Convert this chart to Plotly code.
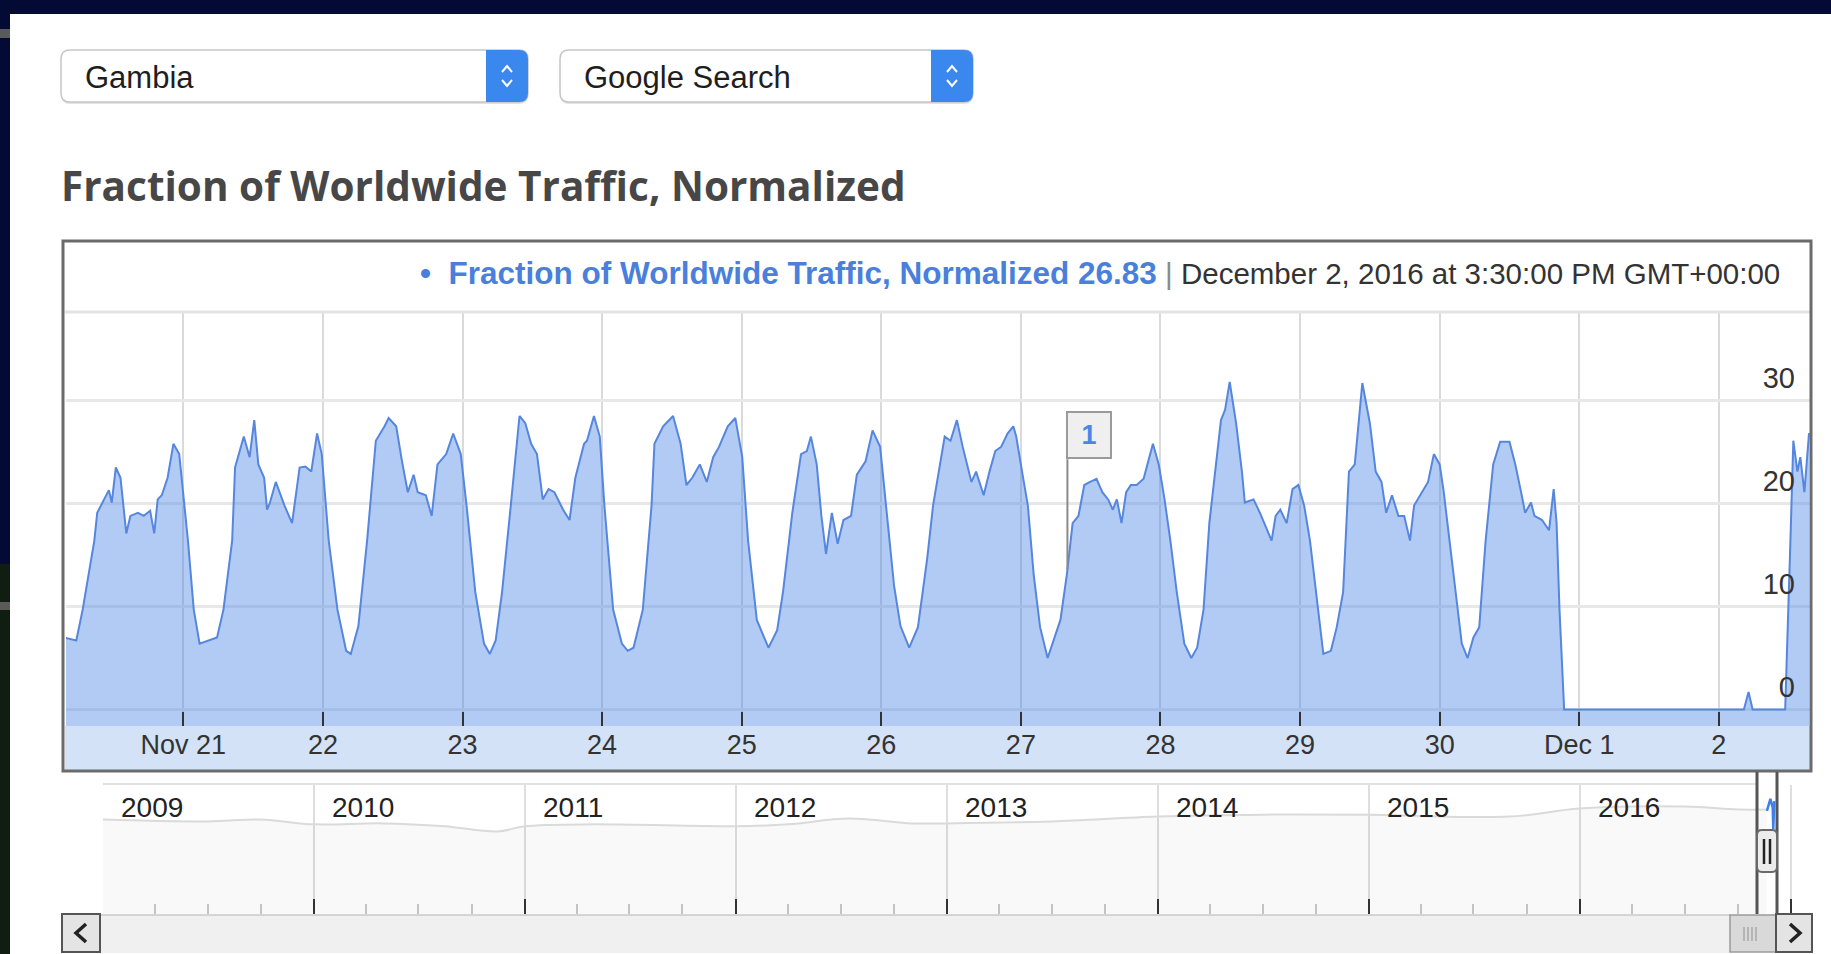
import numpy as np
import pandas as pd
import plotly.graph_objects as go

W, H = 1831, 954

# ------------------------------------------------------------------ data
series_origin = "2016-11-21 00:00"
hours_since_nov21 = [
    -20.5, -18.4, -17.3, -15.3, -14.8, -13.3, -12.8, -12.3, -11.6, -10.8, -9.8, -9.1, -7.8, -6.8, -5.7, -5.0,
    -4.4, -3.7, -2.7, -1.7, -0.7, 0.8, 1.8, 2.8, 4.3, 5.8, 6.9, 8.4, 8.9, 10.4, 11.4, 12.2, 12.9, 13.9, 14.4,
    14.9, 15.9, 17.4, 18.7, 20.0, 21.0, 22.0, 23.0, 23.8, 25.0, 26.5, 28.0, 28.8, 30.1, 31.6, 33.1, 34.6, 35.3,
    36.6, 37.6, 38.6, 39.6, 40.3, 41.7, 42.7, 43.7, 45.2, 46.4, 47.7, 48.7, 50.2, 51.7, 52.7, 53.7, 54.8, 56.3,
    57.8, 58.8, 59.8, 60.8, 61.8, 62.8, 63.8, 65.3, 66.4, 67.4, 68.9, 69.4, 70.6, 71.6, 72.4, 73.9, 75.4, 76.4,
    77.4, 79.0, 80.5, 81.0, 82.5, 84.2, 85.5, 86.5, 87.5, 88.8, 90.0, 91.1, 92.1, 93.6, 94.9, 96.1, 97.1, 98.6,
    100.6, 102.1, 103.1, 104.7, 106.2, 107.2, 107.9, 108.9, 109.7, 110.5, 111.5, 112.5, 113.5, 114.8, 115.8,
    117.3, 118.5, 119.8, 121.0, 122.2,
    123.3, 124.8, 126.3, 127.9, 128.9, 129.9, 130.9, 131.9, 133.0, 134.0, 135.0, 135.5, 136.3, 137.6, 138.6,
    139.6, 140.6, 141.7, 142.7, 143.2, 144.2, 145.2, 146.2, 147.3, 148.6, 149.8, 150.8, 151.9, 152.9, 153.9,
    154.9, 155.9, 157.0, 158.0, 159.0, 159.8, 160.5, 161.3, 162.1, 162.9, 163.9, 165.1, 166.7, 167.7, 168.7,
    169.7, 170.8, 172.1, 173.3, 174.3, 175.4, 176.4, 177.4, 178.4, 179.1, 179.9, 181.0, 182.0, 182.5, 184.0,
    185.1, 186.1, 187.1, 187.8, 188.6, 189.7, 190.7, 191.7, 192.7, 193.7, 194.8, 196.0, 197.3, 198.3, 199.4,
    200.4, 201.4, 201.9, 202.7, 204.0, 205.0, 206.0, 206.8, 207.8, 208.9, 209.9, 210.9, 211.6, 212.9, 214.0,
    215.0, 216.0, 216.7, 217.7, 218.8, 219.8, 220.8, 221.8, 222.8, 223.9, 225.2, 226.4, 228.0, 229.0, 230.0,
    230.7, 231.7, 232.3, 233.6, 234.8, 235.6, 236.1, 236.6, 237.4, 268.3, 269.1, 269.8, 275.4, 276.3, 276.8,
    277.5, 278.0, 278.7, 279.5,
]
traffic = [
    7.0, 6.7, 9.7, 16.4, 19.1, 20.8, 21.3, 20.1, 23.5, 22.5, 17.1, 18.8, 19.1, 18.8, 19.3, 17.1,
    20.4, 20.8, 22.5, 25.8, 24.8, 16.4, 9.7, 6.4, 6.7, 7.0, 9.7, 16.4, 23.5, 26.5, 24.5, 28.1, 23.8, 22.5, 19.4,
    20.1, 22.1, 19.8, 18.1, 23.5, 23.6, 23.1, 26.8, 24.8, 16.4, 9.7, 5.7, 5.4, 8.1, 16.4, 26.1, 27.5, 28.3,
    27.5, 24.1, 21.1, 22.8, 21.1, 20.8, 18.8, 23.8, 24.8, 26.8, 24.8, 19.8, 11.4, 6.4, 5.4, 6.7, 11.4, 19.8,
    28.5, 27.8, 25.8, 24.8, 20.4, 21.4, 21.1, 19.4, 18.4, 22.5, 25.8, 26.1, 28.5, 26.5, 19.8, 9.7, 6.4, 5.7,
    6.0, 9.7, 19.8, 25.8, 27.5, 28.5, 25.8, 21.8, 22.5, 23.8, 22.1, 24.5, 25.5, 27.5, 28.3, 24.5, 16.4, 8.7,
    6.0, 7.7, 11.4, 19.1, 24.8, 25.1, 26.5, 23.8, 18.8, 15.1, 19.1, 16.1, 18.4, 18.8, 22.8,
    24.1, 27.1, 25.5, 19.0, 12.0,
    8.1, 6.0, 8.0, 14.7, 19.8, 23.1, 26.5, 26.1, 28.1, 25.5, 23.1, 22.1, 23.1, 20.8, 23.1,
    25.1, 25.5, 26.8, 27.5, 26.5, 23.1, 19.8, 13.1, 8.0, 5.0, 7.0, 8.7, 13.1, 18.1, 18.8,
    21.8, 22.1, 22.4, 21.1, 20.4, 19.4, 20.4, 18.1, 21.1, 21.8, 21.8, 22.4, 25.8, 23.8, 20.4,
    16.4, 11.4, 6.4, 5.0, 6.0, 9.7, 18.1, 23.1, 28.1, 29.1, 31.8, 27.8, 23.1, 20.1, 20.4,
    19.1, 17.8, 16.4, 18.8, 19.4, 18.1, 21.4, 21.8, 19.8, 16.4, 11.4, 5.4, 5.7, 8.0, 11.4,
    23.1, 23.8, 27.1, 31.7, 27.8, 23.1, 22.1, 19.1, 20.8, 18.8, 18.8, 16.4, 19.8, 21.1, 22.1,
    24.8, 23.8, 21.1, 16.4, 11.4, 6.4, 5.0, 7.0, 8.0, 16.4, 23.8, 26.0, 26.0, 23.8, 21.1,
    19.1, 20.1, 18.8, 18.4, 17.4, 21.4, 18.1, 9.7, 0.0, 0.0, 1.7, 0.0, 0.0, 16.4, 26.1,
    23.1, 24.5, 21.1, 26.83,
]
assert len(hours_since_nov21) == len(traffic)

day_ticks = ["2016-11-21", "2016-11-22", "2016-11-23", "2016-11-24", "2016-11-25", "2016-11-26",
             "2016-11-27", "2016-11-28", "2016-11-29", "2016-11-30", "2016-12-01", "2016-12-02"]
day_labels = ["Nov 21", "22", "23", "24", "25", "26", "27", "28", "29", "30", "Dec 1", "2"]
y_ticks = [0, 10, 20, 30]
view_range = ["2016-11-20 03:50", "2016-12-02 15:40"]
y_range = [-1.6, 38.5]

series_name = "Fraction of Worldwide Traffic, Normalized"
latest_value = 26.83
latest_time_label = "December 2, 2016 at 3:30:00 PM GMT+00:00"
flag_time = "2016-11-27 08:00"
flag_label = "1"
flag_top_value = 24.3

country = "Gambia"
product = "Google Search"

overview_dates = ["2009-01-01", "2009-07-01", "2009-10-01", "2010-01-01", "2010-05-01", "2010-08-15",
                  "2010-11-15", "2011-01-01", "2011-05-01", "2012-01-01", "2012-04-01", "2012-07-15",
                  "2012-11-01", "2013-01-01", "2013-07-01", "2014-01-01", "2014-07-01", "2015-01-01",
                  "2015-09-01", "2016-01-01", "2016-07-01", "2016-10-01", "2016-11-20"]
overview_vals = [29.3, 28.7, 29.3, 27.8, 28.1, 27.2, 25.6, 27.2, 27.8, 27.2, 27.8, 29.6,
                 28.1, 28.1, 28.7, 30.2, 30.8, 30.8, 30.2, 32.7, 33.3, 32.4, 32.4]
recent_dates = ["2016-11-20", "2016-11-26", "2016-11-30", "2016-12-01", "2016-12-02 15:30"]
recent_vals = [32.0, 35.7, 33.0, 26.3, 35.0]
years = [2009, 2010, 2011, 2012, 2013, 2014, 2015, 2016, 2017]
year_labels = ["2009", "2010", "2011", "2012", "2013", "2014", "2015", "2016", ""]
nav_range = ["2009-01-01", "2017-02-06"]

# ------------------------------------------------------------------ helpers
def px(x):
    return x / W


def py(y):
    return 1 - y / H


def P(x, y):
    return f"{px(x):.6f},{py(y):.6f}"


shapes = []
annotations = []


def rect(x0, y0, x1, y1, fill=None, line=None, lw=0, layer="above"):
    shapes.append(dict(type="rect", xref="paper", yref="paper",
                       x0=px(x0), x1=px(x1), y0=py(y1), y1=py(y0),
                       fillcolor=fill or "rgba(0,0,0,0)",
                       line=dict(color=line or "rgba(0,0,0,0)", width=lw), layer=layer))


def seg(x0, y0, x1, y1, color, lw, layer="above"):
    shapes.append(dict(type="line", xref="paper", yref="paper",
                       x0=px(x0), x1=px(x1), y0=py(y0), y1=py(y1),
                       line=dict(color=color, width=lw), layer=layer))


def path(d, fill=None, line=None, lw=0, layer="above"):
    shapes.append(dict(type="path", xref="paper", yref="paper", path=d,
                       fillcolor=fill or "rgba(0,0,0,0)",
                       line=dict(color=line or "rgba(0,0,0,0)", width=lw), layer=layer))


def rrect(x0, y0, x1, y1, r):
    return (f"M {P(x0 + r, y0)} L {P(x1 - r, y0)} Q {P(x1, y0)} {P(x1, y0 + r)} "
            f"L {P(x1, y1 - r)} Q {P(x1, y1)} {P(x1 - r, y1)} L {P(x0 + r, y1)} "
            f"Q {P(x0, y1)} {P(x0, y1 - r)} L {P(x0, y0 + r)} Q {P(x0, y0)} {P(x0 + r, y0)} Z")


def rrect_right(x0, y0, x1, y1, r):
    return (f"M {P(x0, y0)} L {P(x1 - r, y0)} Q {P(x1, y0)} {P(x1, y0 + r)} "
            f"L {P(x1, y1 - r)} Q {P(x1, y1)} {P(x1 - r, y1)} L {P(x0, y1)} Z")


def text(x, y, s, size, color="#222", family="Liberation Sans", xanchor="left", **kw):
    annotations.append(dict(x=px(x), y=py(y), xref="paper", yref="paper", text=s,
                            showarrow=False, xanchor=xanchor, yanchor="middle",
                            font=dict(family=family, size=size, color=color), **kw))


# ------------------------------------------------------------------ page chrome
rect(0, 0, W, 14, fill="#030b34", layer="below")
rect(0, 0, 10, 564, fill="#030b34", layer="below")
rect(0, 564, 10, H, fill="#0f1e10", layer="below")
rect(0, 29, 10, 38, fill="#5a5a5a", layer="below")
rect(0, 602, 10, 610, fill="#5a5a5a", layer="below")

# dropdowns
for (x0, x1, label) in [(61, 528, country), (560, 973, product)]:
    path(rrect(x0, 52, x1, 104, 9), fill="#e2e2e2", layer="below")
    path(rrect(x0, 50, x1, 102, 9), fill="#ffffff", line="#c6c6c6", lw=1.5, layer="below")
    bx = x1 - 42
    path(rrect_right(bx, 50, x1, 102, 9), fill="#3a87ee", layer="below")
    cx = (bx + x1) / 2
    path(f"M {P(cx - 5, 72)} L {P(cx, 66)} L {P(cx + 5, 72)}", line="#ffffff", lw=2)
    path(f"M {P(cx - 5, 80)} L {P(cx, 86)} L {P(cx + 5, 80)}", line="#ffffff", lw=2)
    text(x0 + 22, 77, label, 31, color="#1e1e1e")

text(59, 186, f"<b>{series_name}</b>", 40.5, color="#474747", family="Open Sans")

# main chart frame
rect(65, 726, 1810, 770, fill="#d3e2f6", layer="below")
seg(65, 312, 1810, 312, "#e3e3e3", 3)
rect(63, 241, 1811, 771, line="#6b6b6b", lw=3)

header = (f'<span style="color:#4a7fdc;font-size:31.5px"><b>•  {series_name} {latest_value:.2f}</b></span>'
          f'<span style="color:#8a8a8a"> | </span>'
          f'<span style="color:#333333">{latest_time_label}</span>')
text(1782, 273, header, 29.5, xanchor="right")

# navigator chrome
seg(103, 784, 1757, 784, "#e2e2e2", 2)
for yr, lab in zip(years, year_labels):
    if lab:
        annotations.append(dict(x=f"{yr}-01-01", xref="x2", y=py(807), yref="paper", text=lab,
                                showarrow=False, xanchor="left", yanchor="middle", xshift=16,
                                font=dict(family="Liberation Sans", size=28, color="#222")))

# scrollbar
rect(100, 915, 1730, 953, fill="#f0f0f0", layer="below")
seg(100, 915, 1730, 915, "#c8c8c8", 1.5, layer="below")
rect(62, 914, 100, 952, fill="#e4e4e4", line="#555555", lw=2)
path(f"M {P(86, 924)} L {P(76, 933)} L {P(86, 942)}", line="#222222", lw=3.5)
rect(1730, 915, 1776, 952, fill="#d9d9d9", line="#9a9a9a", lw=1.5)
for gx in [1744, 1748, 1752, 1756]:
    seg(gx, 927, gx, 941, "#a8a8a8", 1.5)
rect(1776, 914, 1812, 952, fill="#e4e4e4", line="#555555", lw=2)
path(f"M {P(1790, 924)} L {P(1800, 933)} L {P(1790, 942)}", line="#222222", lw=3.5)

# zoom window markers in navigator
seg(1757, 772, 1757, 914, "#555555", 3)
seg(1777, 772, 1777, 914, "#555555", 3)
path(rrect(1757, 830, 1777, 872, 5), fill="#ececec", line="#6a6a6a", lw=2)
seg(1764, 839, 1764, 864, "#222222", 2.5)
seg(1770, 839, 1770, 864, "#222222", 2.5)

# ------------------------------------------------------------------ traces
times = pd.Timestamp(series_origin) + pd.to_timedelta(hours_since_nov21, unit="h")

fig = go.Figure()
fig.add_trace(go.Scatter(x=[times[0], times[-1]], y=[y_range[0], y_range[0]], mode="lines",
                         line=dict(width=0), hoverinfo="skip", showlegend=False))
fig.add_trace(go.Scatter(x=times, y=traffic, mode="lines", name=series_name,
                         line=dict(color="rgb(86,134,222)", width=2),
                         fill="tonexty", fillcolor="rgba(70,130,230,0.42)", showlegend=False))

fig.add_trace(go.Scatter(x=overview_dates, y=overview_vals, mode="lines", xaxis="x2", yaxis="y2",
                         line=dict(color="#dadada", width=2, shape="spline"),
                         fill="tozeroy", fillcolor="rgba(0,0,0,0.025)", showlegend=False, hoverinfo="skip"))
fig.add_trace(go.Scatter(x=recent_dates, y=recent_vals, mode="lines", xaxis="x2", yaxis="y2",
                         line=dict(color="#3f7fe6", width=2.5), showlegend=False, hoverinfo="skip"))

# flag annotation "1"
flag_ts = pd.Timestamp(flag_time)
flag_base = float(np.interp((flag_ts - pd.Timestamp(series_origin)) / pd.Timedelta(hours=1),
                            hours_since_nov21, traffic))
shapes.append(dict(type="line", xref="x", yref="y", x0=flag_time, x1=flag_time,
                   y0=flag_base, y1=flag_top_value, line=dict(color="#8a8a8a", width=2), layer="above"))
annotations.append(dict(x=flag_time, y=flag_top_value, xref="x", yref="y", text=f"<b>{flag_label}</b>",
                        showarrow=False, xanchor="left", yanchor="bottom", width=40, height=42,
                        bgcolor="#efefef", bordercolor="#9a9a9a", borderwidth=2, xshift=-1,
                        font=dict(family="Liberation Sans", size=27, color="#4a86e8")))

quarters = [d.strftime("%Y-%m-%d") for d in pd.date_range("2009-01-01", "2017-01-01", freq="QS")
            if d.month != 1]

fig.update_layout(
    width=W, height=H, margin=dict(l=0, r=0, t=0, b=0),
    paper_bgcolor="#ffffff", plot_bgcolor="#ffffff",
    showlegend=False, shapes=shapes, annotations=annotations,
    xaxis=dict(type="date", domain=[px(66), px(1810)], range=view_range, anchor="y",
               tickmode="array", tickvals=day_ticks, ticktext=day_labels,
               ticks="inside", ticklen=14, tickwidth=2, tickcolor="#333333",
               showgrid=True, gridcolor="#dadada", gridwidth=1.5, showline=False, zeroline=False,
               tickfont=dict(family="Liberation Sans", size=27, color="#333333")),
    yaxis=dict(domain=[py(726), py(313)], range=y_range, anchor="x", side="right",
               tickmode="array", tickvals=y_ticks, ticks="", ticklabelposition="inside",
               ticklabelshift=-23, ticklabelstandoff=12,
               showgrid=True, gridcolor="#e8e8e8", gridwidth=2.5, zeroline=False, showline=False,
               tickfont=dict(family="Liberation Sans", size=29, color="#333333")),
    xaxis2=dict(type="date", domain=[px(103), px(1812)], range=nav_range, anchor="y2",
                tickmode="array", tickvals=[f"{y}-01-01" for y in years], showticklabels=False,
                ticks="inside", ticklen=15, tickwidth=2, tickcolor="#333333",
                showgrid=True, gridcolor="#dedede", gridwidth=1.5, zeroline=False, showline=False,
                minor=dict(tickmode="array", tickvals=quarters, ticks="inside", ticklen=10,
                           tickwidth=1.5, tickcolor="#c4c4c4", showgrid=False)),
    yaxis2=dict(domain=[py(914), py(785)], range=[0, 40], anchor="x2", visible=False),
)

fig.write_html("out.html", config={"displayModeBar": False},
               post_script="document.body.style.margin='0';document.body.style.overflow='hidden';")
